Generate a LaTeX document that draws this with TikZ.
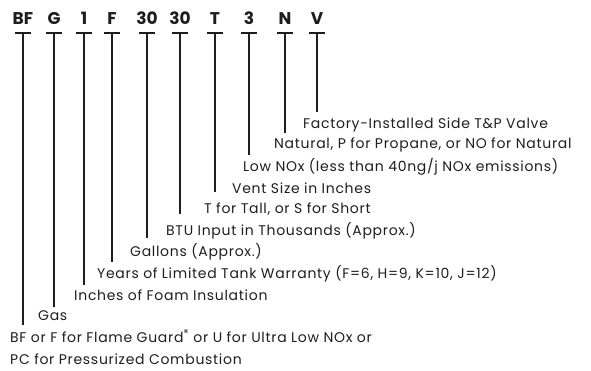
\documentclass[tikz,border=0pt]{standalone}
\usepackage{fontspec}
\setmainfont{Poppins}[LetterSpace=5]
\newfontfamily\codefont{Poppins}[LetterSpace=0]
\usetikzlibrary{calc,positioning}
\definecolor{inkgray}{RGB}{30, 30, 30}
\tikzset{
  code/.style={font=\codefont\fontsize{17}{17}\selectfont\bfseries, text=inkgray, inner sep=0pt, anchor=base},
  desc/.style={font=\fontsize{14}{16}\selectfont, text=inkgray, inner sep=0pt, anchor=base west},
  stem/.style={line width=2pt, draw=inkgray},
}

\begin{document}
\begin{tikzpicture}[x=1pt, y=-1pt]
    \useasboundingbox (0,0) rectangle (591,370);

    % model number
    \node [code] (bf) at (23,24) {BF};
    \node [code] (g) at (54,24) {G};
    \node [code] (one) at (84,24) {1};
    \node [code] (f) at (112,24) {F};
    \node [code] (gala) at (147,24) {30};
    \node [code] (btua) at (180,24) {30};
    \node [code] (t) at (215,24) {T};
    \node [code] (three) at (249,24) {3};
    \node [code] (n) at (285,24) {N};
    \node [code] (v) at (317,24) {V};

    % meanings
    \node [desc] (valve) at (303,128) {Factory-Installed Side T\&P Valve};
    \node [desc] (fuel) at (274,148) {Natural, P for Propane, or NO for Natural};
    \node [desc] (nox) at (243,171) {Low NOx (less than 40ng/j NOx emissions)};
    \node [desc] (vent) at (232,193) {Vent Size in Inches};
    \node [desc] (tall) at (204,213) {T for Tall, or S for Short};
    \node [desc] (btu) at (166,235) {BTU Input in Thousands (Approx.)};
    \node [desc] (gal) at (130,256) {Gallons (Approx.)};
    \node [desc] (warr) at (97,278) {Years of Limited Tank Warranty (F=6, H=9, K=10, J=12)};
    \node [desc] (foam) at (74,300) {Inches of Foam Insulation};
    \node [desc] (gas) at (38,320) {Gas};
    \node [desc] (flame) at (10,342) {BF or F for Flame Guard\textsuperscript{®} or U for Ultra Low NOx or};
    \node [desc] (pc) at (10,364) {PC for Pressurized Combustion};

    \foreach \c/\d/\g in {bf/flame/17, g/gas/13, one/foam/15, f/warr/16, gala/gal/18,
                          btua/btu/21, t/tall/21, three/nox/16, n/fuel/15, v/valve/16} {
        \draw [stem] ($(\c.base)+(-8,9)$) -- ++(16,0);
        \draw [stem] ($(\c.base)+(0,9)$) -- ($(\c.base |- \d.base)+(0,-\g)$);
    }
\end{tikzpicture}
\end{document}
